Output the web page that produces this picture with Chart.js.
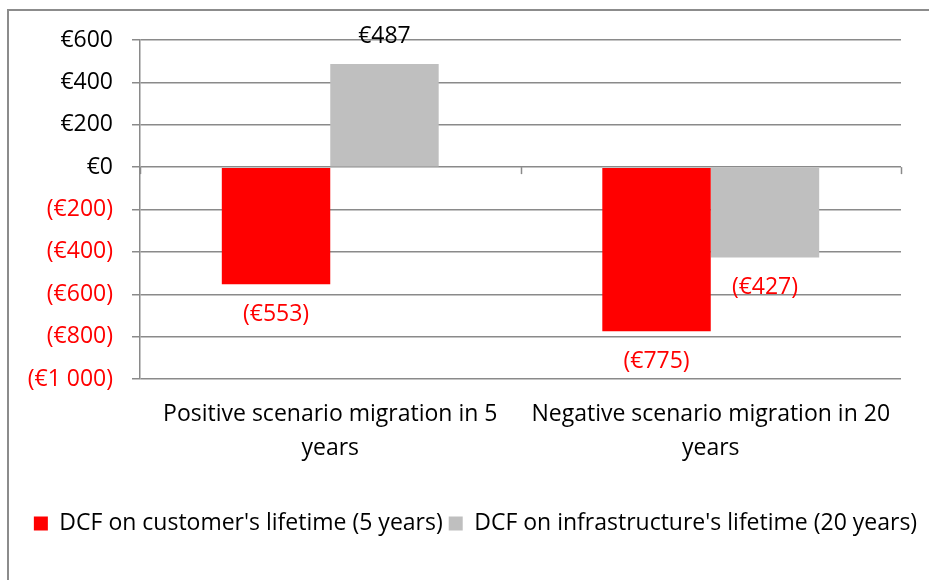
<!DOCTYPE html>
<html>
<head>
<meta charset="utf-8">
<script src="https://cdn.jsdelivr.net/npm/chart.js@4.4.0/dist/chart.umd.min.js"></script>
<style>
  html, body { margin: 0; padding: 0; background: #fff; }
  #frame { position: absolute; left: 7px; top: 9px; width: 960px; height: 620px; border: 2px solid #8c8c8c; }
  #c { position: absolute; left: 0; top: 0; }
</style>
</head>
<body>
<div id="frame"></div>
<canvas id="c" width="929" height="580"></canvas>
<script>
// ========== DATOS ==========
const categorias = [
    ['Positive scenario migration in 5', 'years'],
    ['Negative scenario migration in 20', 'years']
];
const serieNombres = ["DCF on customer's lifetime (5 years)", "DCF on infrastructure's lifetime (20 years)"];
const dcfCliente = [-553, -775];
const dcfInfra = [487, -427];
const colores = ['#ff0000', '#bfbfbf'];
const ejeMin = -1000;
const ejeMax = 600;
const ejePaso = 200;

const fuente = '"Open Sans"';
const tam = 23;
const rojo = '#ff0000';
const gris = '#8a8a8a';

// Formato tipo Excel: €600 / (€1 000)
function formatoEuro(v) {
    const abs = Math.abs(Math.round(v)).toString().replace(/\B(?=(\d{3})+(?!\d))/g, ' ');
    return v < 0 ? '(€' + abs + ')' : '€' + abs;
}

// Etiquetas de valor sobre / bajo las barras
const etiquetasPlugin = {
    id: 'etiquetas',
    afterDatasetsDraw(chart) {
        const ctx = chart.ctx;
        ctx.save();
        ctx.font = tam + 'px ' + fuente;
        ctx.textAlign = 'center';
        ctx.textBaseline = 'middle';
        chart.data.datasets.forEach((ds, i) => {
            chart.getDatasetMeta(i).data.forEach((bar, j) => {
                const v = ds.data[j];
                ctx.fillStyle = v < 0 ? rojo : '#000';
                const y = v < 0 ? bar.y + 30 : bar.y - 27;
                ctx.fillText(formatoEuro(v), bar.x, y);
            });
        });
        ctx.restore();
    }
};

// Marcas de categoría sobre la línea de cero
const marcasCeroPlugin = {
    id: 'marcasCero',
    afterDraw(chart) {
        const x = chart.scales.x, y = chart.scales.y;
        const y0 = y.getPixelForValue(0);
        const xs = [chart.chartArea.left];
        for (let i = 0; i < categorias.length - 1; i++) {
            xs.push((x.getPixelForValue(i) + x.getPixelForValue(i + 1)) / 2);
        }
        xs.push(chart.chartArea.right);
        const ctx = chart.ctx;
        ctx.save();
        ctx.strokeStyle = gris;
        ctx.lineWidth = 1.5;
        xs.forEach(px => {
            ctx.beginPath();
            ctx.moveTo(Math.round(px) + 0.5, y0);
            ctx.lineTo(Math.round(px) + 0.5, y0 + 7);
            ctx.stroke();
        });
        ctx.restore();
    }
};

// La leyenda de Excel queda algo desplazada a la derecha
const leyendaPlugin = {
    id: 'leyendaDesplazada',
    afterLayout(chart) {
        chart.legend.left += 25;
        chart.legend.right += 25;
    }
};

const grafico = new Chart(document.getElementById('c').getContext('2d'), {
    type: 'bar',
    data: {
        labels: categorias,
        datasets: [
            { label: serieNombres[0], data: dcfCliente, backgroundColor: colores[0] },
            { label: serieNombres[1], data: dcfInfra, backgroundColor: colores[1] }
        ]
    },
    options: {
        responsive: false,
        animation: false,
        categoryPercentage: 0.57,
        barPercentage: 1,
        layout: { padding: { left: 0, top: 40, right: 28, bottom: 35 } },
        plugins: {
            legend: {
                position: 'bottom',
                labels: {
                    color: '#000',
                    font: { family: fuente, size: tam },
                    boxWidth: 14,
                    boxHeight: 14,
                    padding: 6
                }
            },
            tooltip: { enabled: false }
        },
        scales: {
            x: {
                grid: { display: false, drawTicks: false },
                border: { display: false },
                ticks: {
                    color: '#000',
                    font: { family: fuente, size: tam, lineHeight: 1.45 },
                    padding: 19,
                    maxRotation: 0,
                    autoSkip: false
                },
                afterFit(scale) { scale.height = 127; }
            },
            y: {
                min: ejeMin,
                max: ejeMax,
                ticks: {
                    stepSize: ejePaso,
                    padding: 19,
                    font: { family: fuente, size: tam },
                    color: c => (c.tick && c.tick.value < 0 ? rojo : '#000'),
                    callback: v => formatoEuro(v)
                },
                grid: { color: gris, lineWidth: 1.5, tickLength: 8 },
                border: { color: gris, width: 1.5 },
                afterFit(scale) { scale.width = 140; }
            }
        }
    },
    plugins: [etiquetasPlugin, marcasCeroPlugin, leyendaPlugin]
});
</script>
</body>
</html>
